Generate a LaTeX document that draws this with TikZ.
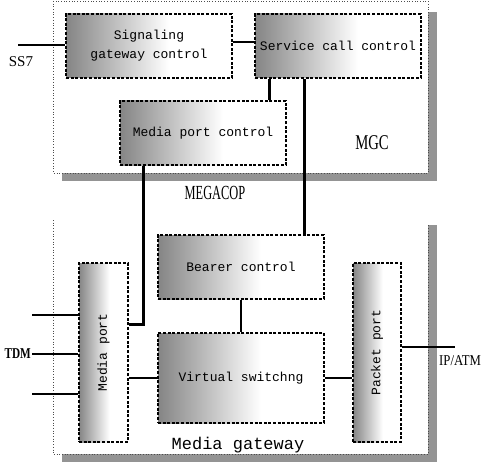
\documentclass[tikz,border=0pt]{standalone}
\usepackage{fontspec}
\usepackage{graphicx}
\setmainfont{Liberation Serif}
\setmonofont{Liberation Mono}
\usetikzlibrary{positioning}
\pgfdeclarehorizontalshading{boxfade}{100bp}{color(0bp)=(black!48); color(25bp)=(black!48); color(38bp)=(black!28); color(56bp)=(white); color(100bp)=(white)}
\tikzset{
  unit/.style={
    draw=black,
    line width=1.1pt,
    dash pattern=on 3pt off 1.6pt,
    shading=boxfade,
    align=center,
    inner sep=0pt,
    font=\ttfamily\fontsize{13}{19}\selectfont
  },
  wide/.style={unit,minimum width=166pt,minimum height=64pt},
  tall/.style={unit,minimum width=49pt,minimum height=179pt},
  conn/.style={draw=black,line width=2.4pt},
  frame/.style={draw=black!70,line width=.7pt,dotted},
  shadow/.style={fill=black!42,draw=none},
  lbl/.style={font=\fontsize{15}{15}\selectfont,inner sep=1pt}
}
\newcommand{\squeeze}[2]{\scalebox{#1}[1]{#2}}

\begin{document}
\begin{tikzpicture}[x=1pt,y=-1pt]
  \useasboundingbox (0,0) rectangle (481,468);

  % MGC frame and its shadow
  \path[shadow] (62,12) rectangle (437,181);
  \path[fill=white] (53,1) rectangle (428,173);
  \draw[frame] (53,1) rectangle (428,173);

  % Media gateway frame and its shadow (no upper edge)
  \path[shadow] (62,225) rectangle (437,462);
  \path[fill=white] (53,220) rectangle (428,454);
  \draw[frame] (53,220) -- (53,454) -- (428,454) -- (428,225);

  % MGC units
  \node[wide] (sgc) at (149,46) {Signaling\\gateway control};
  \node[wide] (scc) at (338,46) {Service call control};
  \node[wide] (mpc) at (203,133) {Media port control};
  \node[lbl,font=\fontsize{21}{21}\selectfont] (mgc) at (372,143) {\squeeze{0.7}{MGC}};

  % Media gateway units
  \node[wide] (bearer) at (241,267) {Bearer control};
  \node[wide,minimum height=90pt] (vs) at (241,378) {Virtual switchng};
  \node[tall] (mport) at (103.5,352.5) {\rotatebox{90}{Media port}};
  \node[tall,minimum width=48pt] (packet) at (377,352.5) {\rotatebox{90}{Packet port}};
  \node[font=\ttfamily\fontsize{17}{17}\selectfont] (mg) at (238,445) {Media gateway};

  % protocol label between the two frames
  \node[lbl,font=\fontsize{20}{20}\selectfont] (megacop) at (215,193) {\squeeze{0.62}{MEGACOP}};

  % links inside MGC
  \draw[conn] ([yshift=4pt]sgc.east) -- ([yshift=4pt]scc.west);
  \draw[conn] ([xshift=15pt]scc.south west) -- ([xshift=15pt]scc.south west |- mpc.north);

  % links from MGC down to the gateway
  \draw[conn] ([xshift=50pt]scc.south west) -- ([xshift=50pt]scc.south west |- bearer.north);
  \draw[conn] ([xshift=24pt]mpc.south west) |- ([yshift=28pt]mport.east);

  % links inside the gateway
  \draw[conn] (bearer.south) -- (vs.north);
  \draw[conn] (vs.west) -- (vs.west -| mport.east);
  \draw[conn] (vs.east) -- (vs.east -| packet.west);

  % SS7 line
  \coordinate (ss7) at (18,45);
  \draw[conn] (ss7) -- (ss7 -| sgc.west);
  \node[lbl] (ss7lbl) at (21,62) {SS7};

  % TDM lines
  \foreach \y/\n in {315/tdma,354/tdmb,394/tdmc}{
    \coordinate (\n) at (32,\y);
    \draw[conn] (\n) -- (\n -| mport.west);
  }
  \node[lbl,anchor=east,font=\bfseries\fontsize{15}{15}\selectfont] (tdm) at (tdmb) {\squeeze{0.75}{TDM}};

  % IP/ATM line
  \coordinate (ipatm) at (455,347);
  \draw[conn] ([yshift=5.5pt]packet.east) -- (ipatm);
  \node[lbl,anchor=west] (iplbl) at (438,361) {\squeeze{0.85}{IP/ATM}};
\end{tikzpicture}
\end{document}
